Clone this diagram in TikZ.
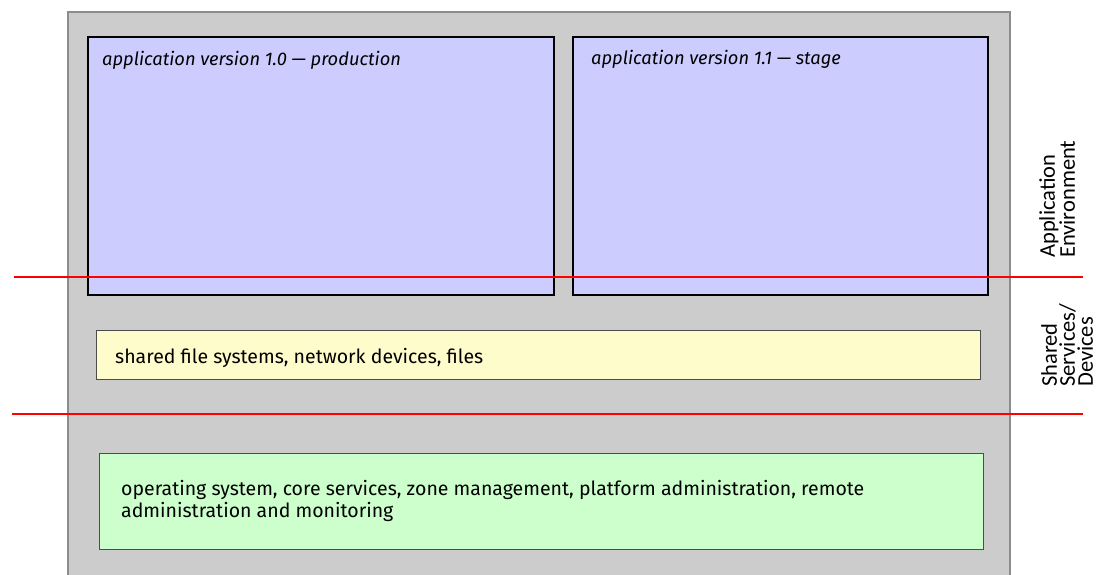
\documentclass[tikz,border=0pt]{standalone}
\usepackage{fontspec}
\setmainfont{Fira Sans}
\newfontfamily\sidefont{Carlito}
\usetikzlibrary{positioning}
\tikzset{
  hostbox/.style  = {draw=black!45, fill=black!20, line width=1.6pt,
                     anchor=north west, inner sep=0pt},
  appbox/.style   = {draw=black, fill=blue!20, line width=2pt,
                     anchor=north west, inner sep=0pt},
  sharedbox/.style= {draw=black!70, fill=yellow!20, line width=0.9pt,
                     anchor=north west, inner sep=0pt},
  osbox/.style    = {draw=black!70, fill=green!20, line width=0.9pt,
                     anchor=north west, inner sep=0pt},
  applab/.style   = {font=\fontsize{18.3}{22}\selectfont\itshape,
                     anchor=base west, inner sep=0pt},
  boxlab/.style   = {font=\fontsize{19.5}{22}\selectfont, align=left,
                     anchor=base west, inner sep=0pt},
  sidelab/.style  = {font=\sidefont\fontsize{22.5}{18}\selectfont, rotate=90,
                     align=left, anchor=north west, inner sep=0pt},
  sepline/.style  = {red, line width=1.8pt},
}
\begin{document}
\begin{tikzpicture}[x=1pt,y=-1pt]
\useasboundingbox (0,0) rectangle (1097,575);
% host and zones
\node[hostbox, minimum width=942pt, minimum height=590pt] (host) at (67,11) {};
\node[appbox, minimum width=466pt, minimum height=258pt] (prod) at (87,36) {};
\node[appbox, minimum width=415pt, minimum height=258pt] (stage) at (572,36) {};
\node[sharedbox, minimum width=884pt, minimum height=49pt] (shared) at (96,330) {};
\node[osbox, minimum width=884pt, minimum height=96pt] (os) at (99,453) {};
% texts (the two-line one sits on its last line)
\node[applab] (prodlab) at (102,66) {application version 1.0 — production};
\node[applab] (stagelab) at (591,65) {application version 1.1 — stage};
\node[boxlab] (sharedlab) at (115,363) {shared file systems, network devices, files};
\node[boxlab] (oslab) at (121,517) {operating system, core services, zone management, platform administration, remote\\administration and monitoring};
% layer borders
\coordinate (appL) at (14,277);
\coordinate (appR) at (1083,277);
\coordinate (shL) at (12,414);
\coordinate (shR) at (1083,414);
\draw[sepline] (appL) -- (appR);
\draw[sepline] (shL) -- (shR);
% layer names
\node[sidelab] (appenv) at (1039,258) {Application\\Environment};
\node[sidelab] (shenv) at (1041,387) {Shared\\Services/\\Devices};
\end{tikzpicture}
\end{document}
